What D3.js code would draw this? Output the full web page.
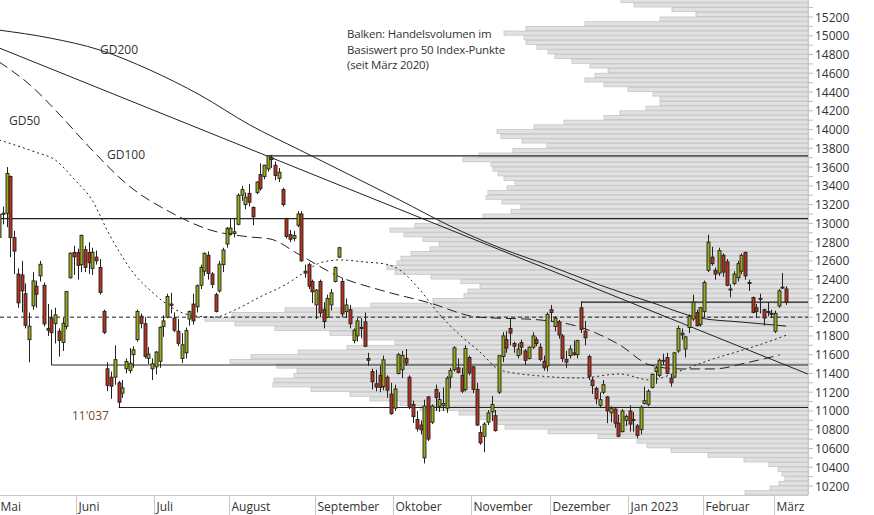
<!DOCTYPE html>
<html><head><meta charset="utf-8">
<script src="https://cdn.jsdelivr.net/npm/d3@7"></script>
<style>body{margin:0;background:#fff}svg{display:block}text{font-family:"Open Sans",sans-serif}</style>
</head><body>
<svg id="c" width="874" height="515"></svg>
<script>
// ---- data ----
const monthLabels=["Mai","Juni","Juli","August","September","Oktober","November","Dezember","Jan 2023","Februar","März"];
const monthStart=[0,21,42,62,85,106,127,148,169,189,208];
const yTicks=d3.range(10200,15201,200);
const candles=[
[12850,13110,12760,13096],[13096,13180,12990,13108],[13108,13600,12960,13532],[13500,13510,12640,12848],[12848,12920,12460,12704],
[12460,12520,12100,12152],[12450,12600,12050,12280],[12250,12360,11880,11913],[11760,12050,11520,11904],[12120,12480,12080,12387],
[12330,12390,12100,12244],[12440,12600,12380,12564],[12340,12370,11900,11928],[11880,12140,11800,11860],[11990,12080,11490,11835],
[11930,12100,11720,12024],[11850,11880,11580,11752],[11730,11990,11640,11935],[11900,12280,11870,12272],[12420,12690,12410,12682],
[12690,12760,12450,12643],
[12690,12730,12400,12552],[12560,12880,12480,12872],[12720,12760,12480,12531],[12690,12800,12460,12580],[12520,12740,12450,12692],
[12640,12710,12560,12601],[12530,12620,12240,12263],[12060,12080,11820,11838],[11450,11520,11210,11273],[11360,11420,11130,11264],
[11360,11700,11280,11547],[11300,11320,11037,11093],[11190,11330,11140,11246],[11450,11560,11400,11528],[11430,11670,11400,11509],
[11600,11690,11460,11652],[11760,12080,11740,12061],[12010,12040,11880,11933],[11930,12000,11560,11582],[11560,11680,11500,11606],
[11450,11560,11330,11503],
[11470,11640,11390,11628],[11530,11900,11460,11892],[11900,12020,11790,11960],[12000,12250,11990,12220],[12140,12260,12040,12126],
[11990,12050,11840,11860],[11850,11980,11690,11721],[11560,11830,11510,11706],[11620,11890,11560,11857],[11980,12070,11910,12059],
[12140,12250,11920,11960],[12110,12350,12050,12335],[12340,12560,12300,12531],[12490,12690,12440,12681],[12660,12700,12400,12465],
[12460,12480,12310,12350],[12240,12260,12050,12060],[12280,12600,12260,12566],[12560,12740,12480,12716],[12780,12960,12740,12947],
[12890,13050,12870,12950],[12890,13050,12850,12910],[12990,13320,12980,13300],[13300,13400,13240,13360],[13200,13330,13150,13280],
[13320,13420,13180,13225],[13170,13180,12980,13070],[13330,13450,13310,13440],[13520,13640,13350,13370],[13500,13625,13470,13620],
[13580,13725,13550,13720],[13700,13730,13590,13680],[13620,13660,13460,13510],[13480,13590,13440,13545],[13360,13380,13180,13200],
[13050,13060,12840,12860],[12880,12930,12800,12830],[12840,12920,12810,12870],[12980,13130,12960,13100],[13100,13130,12590,12600],
[12490,12560,12420,12470],[12560,12580,12300,12330],[12380,12400,12150,12270],
[12130,12300,11980,12288],[12380,12400,12000,12046],[12080,12160,11880,11953],[12000,12240,11990,12200],[12130,12300,12070,12260],
[12380,12540,12370,12530],[12640,12750,12630,12740],[12380,12420,12000,12035],[12060,12200,11990,12130],[12080,12130,11880,11930],
[11750,11880,11720,11860],[11800,11990,11740,11960],[11890,11990,11780,11880],[11950,12050,11680,11690],[11560,11620,11480,11540],
[11420,11450,11230,11311],[11290,11440,11210,11255],[11380,11480,11200,11250],[11260,11590,11220,11545],[11360,11380,11140,11222],
[11180,11300,10960,10971],
[11030,11280,11000,11234],[11400,11620,11390,11600],[11440,11640,11350,11591],[11560,11660,11480,11510],[11360,11380,11020,11050],
[11070,11110,10870,10940],[10910,11000,10780,10810],[10850,10900,10750,10798],[10500,11120,10440,11052],[11150,11160,10680,10700],
[10880,11070,10860,11053],[11230,11280,11000,11142],[11050,11200,10990,11121],[11060,11250,11000,11080],[11030,11370,10980,11350],
[11360,11460,11240,11431],[11440,11690,11420,11673],[11460,11560,11400,11410],[11380,11460,11190,11211],[11230,11700,11210,11666],
[11570,11590,11380,11405],
[11470,11480,11190,11230],[11230,11300,10840,10850],[10770,10840,10640,10660],[10730,10880,10560,10860],[10880,11010,10850,10980],
[10990,11160,10890,11070],[10950,11010,10780,10790],[11200,11590,11180,11590],[11580,11840,11520,11800],[11760,11850,11620,11670],
[11880,11990,11700,11830],[11720,11740,11620,11690],[11590,11720,11560,11660],[11730,11760,11600,11680],[11640,11660,11490,11540],
[11560,11690,11550,11680],[11680,11840,11660,11800],[11760,11790,11690,11720],[11680,11720,11530,11550],[11530,11590,11430,11460],
[11480,12050,11420,12030],
[12080,12130,11950,12050],[11900,12010,11850,11990],[11950,11970,11770,11810],[11800,11820,11520,11560],[11550,11640,11460,11520],
[11590,11700,11560,11660],[11620,11750,11590,11600],[11600,11760,11560,11750],[12100,12170,11830,11870],[11850,11960,11700,11780],
[11580,11600,11330,11370],[11330,11360,11180,11270],[11240,11260,11070,11130],[11060,11200,11040,11120],[11200,11330,11180,11280],
[11150,11160,10870,11000],[10980,11050,10880,11030],[11020,11030,10820,10870],[10870,10960,10720,10730],[10780,11020,10770,11000],
[10900,10960,10840,10940],
[11000,11060,10780,10860],[10900,10990,10780,10910],[10840,10860,10710,10740],[10800,11060,10750,11040],[11080,11260,11070,11110],
[11070,11230,11050,11210],[11250,11400,11240,11390],[11420,11480,11290,11460],[11380,11560,11360,11540],[11530,11610,11490,11540],
[11570,11620,11390,11400],[11350,11390,11260,11300],[11360,11630,11350,11620],[11640,11910,11620,11880],[11830,11880,11760,11810],
[11660,11800,11570,11790],[11890,12030,11830,12010],[11980,12240,11960,12160],[12050,12080,11900,11910],[11920,12110,11900,12100],
[12060,12390,11990,12370],[12500,12880,12480,12800],[12640,12750,12550,12570],[12500,12530,12400,12460],[12470,12740,12440,12710],
[12660,12680,12430,12480],[12590,12620,12330,12340],[12290,12350,12210,12300],[12360,12490,12340,12460],[12420,12600,12380,12570],
[12490,12680,12460,12660],[12690,12700,12400,12440],[12370,12400,12280,12360],[12210,12220,12040,12050],[12100,12140,11990,12060],
[12200,12250,12040,12190],[12080,12090,11910,11990],[12060,12160,12010,12050],[12040,12080,11990,12040],
[11850,12070,11830,12040],[12120,12300,12100,12280],[12310,12470,12300,12320],[12300,12330,12130,12160]
];
// volume profile: level (lower bound, 50-pt bins) from 15350 downward, relative volume
const volTop=15350;
const volumes=[187,174,136,112,148,223,282,304,284,282,271,260,253,236,218,200,213,223,204,180,155,148,148,162,188,204,244,274,311,307,286,261,295,329,345,317,315,310,304,293,301,320,322,306,287,297,325,369,393,418,404,385,369,378,397,407,411,421,413,377,347,328,340,344,375,437,523,576,603,573,533,478,446,413,461,510,557,578,531,511,514,534,535,497,458,438,408,388,349,328,313,303,260,210,171,161,137,100,64,39,30,26,23,29,38,63];
const gd200=[[0,15060],[13.6,14976],[27,14848],[40.4,14635],[53.8,14369],[67.2,14049],[80.6,13782],[94,13516],[107.4,13249],[120.9,12972],[134.3,12738],[147.7,12546],[161,12343],[174.5,12162],[187.9,11991],[198.6,11949],[211,11905]];
const gd100=[[0,14720],[8.3,14475],[16.3,14155],[24.9,13782],[34.5,13409],[46.3,13111],[56.5,12930],[67.2,12855],[72.6,12834],[80.6,12663],[91.4,12428],[102.1,12290],[115.5,12151],[128.1,12002],[145,11970],[155.7,11895],[166.4,11703],[174.5,11490],[182.5,11448],[191.4,11448],[201.3,11522],[209.3,11597]];
const gd50=[[0,13889],[9.6,13761],[15,13676],[20.3,13462],[24.9,13249],[29.2,12908],[32.4,12684],[36.4,12450],[40.4,12290],[44.5,12151],[48.5,12055],[52.5,12013],[57.9,12002],[63.2,12077],[69.9,12215],[76.6,12343],[82,12482],[86,12578],[91.4,12610],[98.1,12588],[103.4,12567],[107.4,12503],[112.8,12290],[118.2,12023],[123.5,11810],[128.9,11629],[134.3,11437],[145,11373],[155.7,11352],[166.4,11394],[174.5,11330],[182.5,11426],[190.6,11544],[198.6,11640],[205.3,11725],[211.2,11810]];
const trend=[[0,14870],[216.8,11394]];
const hLines=[{p:13720,from:72},{p:13050,from:-1},{p:12160,from:156},{p:11490,from:14},{p:11037,from:32}];
const pivot=12000;

// ---- scales ----
const W=808, svg=d3.select("#c");
const y=d3.scaleLinear().domain([10200,15200]).range([486,17]);
const x=d3.scaleLinear().domain([21,208]).range([77.5,775]);
const vx=d3.scaleLinear().domain([0,808]).range([W,0]);
const g=svg.append("g");
const clip=svg.append("clipPath").attr("id","pc").append("rect").attr("x",0).attr("y",0).attr("width",W).attr("height",495);

// volume profile
g.append("g").attr("clip-path","url(#pc)").selectAll("rect").data(volumes).join("rect")
 .attr("x",d=>vx(d)).attr("width",d=>W-vx(d))
 .attr("y",(d,i)=>y(volTop-50*i+50)).attr("height",(d,i)=>y(volTop-50*i)-y(volTop-50*i+50)-0.6)
 .attr("fill","#e1e1e1").attr("stroke","#c4c4c4").attr("stroke-width",0.8);

// axes
g.append("line").attr("x1",W+0.5).attr("x2",W+0.5).attr("y1",0).attr("y2",495).attr("stroke","#c8c8c8");
g.append("line").attr("x1",0).attr("x2",W).attr("y1",495.5).attr("y2",495.5).attr("stroke","#c8c8c8");
d3.range(10200,15301,100).forEach(v=>{g.append("line").attr("x1",W).attr("x2",W+5).attr("y1",y(v)).attr("y2",y(v)).attr("stroke","#bbb");});
g.selectAll(".yl").data(yTicks).join("text").attr("x",815).attr("y",d=>y(d)+4.5).attr("font-size",12).attr("fill","#333").text(d=>d);
monthStart.forEach((m,i)=>{const xx=Math.round(x(m)-1.5)+0.5;
 g.append("line").attr("x1",xx).attr("x2",xx).attr("y1",495).attr("y2",515).attr("stroke","#c8c8c8");
 g.append("text").attr("x",xx+2).attr("y",511).attr("font-size",12).attr("fill","#333").text(monthLabels[i]);});

// horizontal lines
const L=g.append("g").attr("clip-path","url(#pc)");
hLines.forEach(h=>L.append("line").attr("x1",h.from<0?0:x(h.from)).attr("x2",W).attr("y1",y(h.p)).attr("y2",y(h.p)).attr("stroke","#222").attr("stroke-width",1.2));
L.append("line").attr("x1",0).attr("x2",W).attr("y1",y(pivot)).attr("y2",y(pivot)).attr("stroke","#222").attr("stroke-dasharray","4,3");
const ln=d3.line().x(d=>x(d[0])).y(d=>y(d[1])).curve(d3.curveMonotoneX);
L.append("path").attr("d",ln(trend)).attr("fill","none").attr("stroke","#222").attr("stroke-width",1);
L.append("path").attr("d",ln(gd200)).attr("fill","none").attr("stroke","#222").attr("stroke-width",1);
L.append("path").attr("d",ln(gd100)).attr("fill","none").attr("stroke","#222").attr("stroke-width",1).attr("stroke-dasharray","10,5");
L.append("path").attr("d",ln(gd50)).attr("fill","none").attr("stroke","#222").attr("stroke-width",1).attr("stroke-dasharray","2,3");

// candles
const C=g.append("g").attr("clip-path","url(#pc)");
candles.forEach((c,i)=>{const [o,h,l,cl]=c, xc=Math.round(x(i))+0.5;
 C.append("line").attr("x1",xc).attr("x2",xc).attr("y1",y(h)).attr("y2",y(l)).attr("stroke","#222");
 const t=y(Math.max(o,cl)), b=y(Math.min(o,cl));
 C.append("rect").attr("x",xc-1.5).attr("width",3).attr("y",t).attr("height",Math.max(1,b-t))
  .attr("fill",cl>=o?"#9aaa1a":"#b8321e").attr("stroke","#222").attr("stroke-width",0.9);});

// labels
const lab=[["GD200",100,54],["GD100",107,159],["GD50",9,125]];
lab.forEach(a=>g.append("text").attr("x",a[1]).attr("y",a[2]).attr("font-size",12).attr("fill","#333").text(a[0]));
g.append("text").attr("x",72).attr("y",420).attr("font-size",12).attr("fill","#7a4a28").text("11'037");
["Balken: Handelsvolumen im","Basiswert pro 50 Index-Punkte","(seit März 2020)"].forEach((t,i)=>
 g.append("text").attr("x",347).attr("y",38+i*15.5).attr("font-size",11.5).attr("fill","#333").attr("letter-spacing","-0.2").text(t));
</script></body></html>
